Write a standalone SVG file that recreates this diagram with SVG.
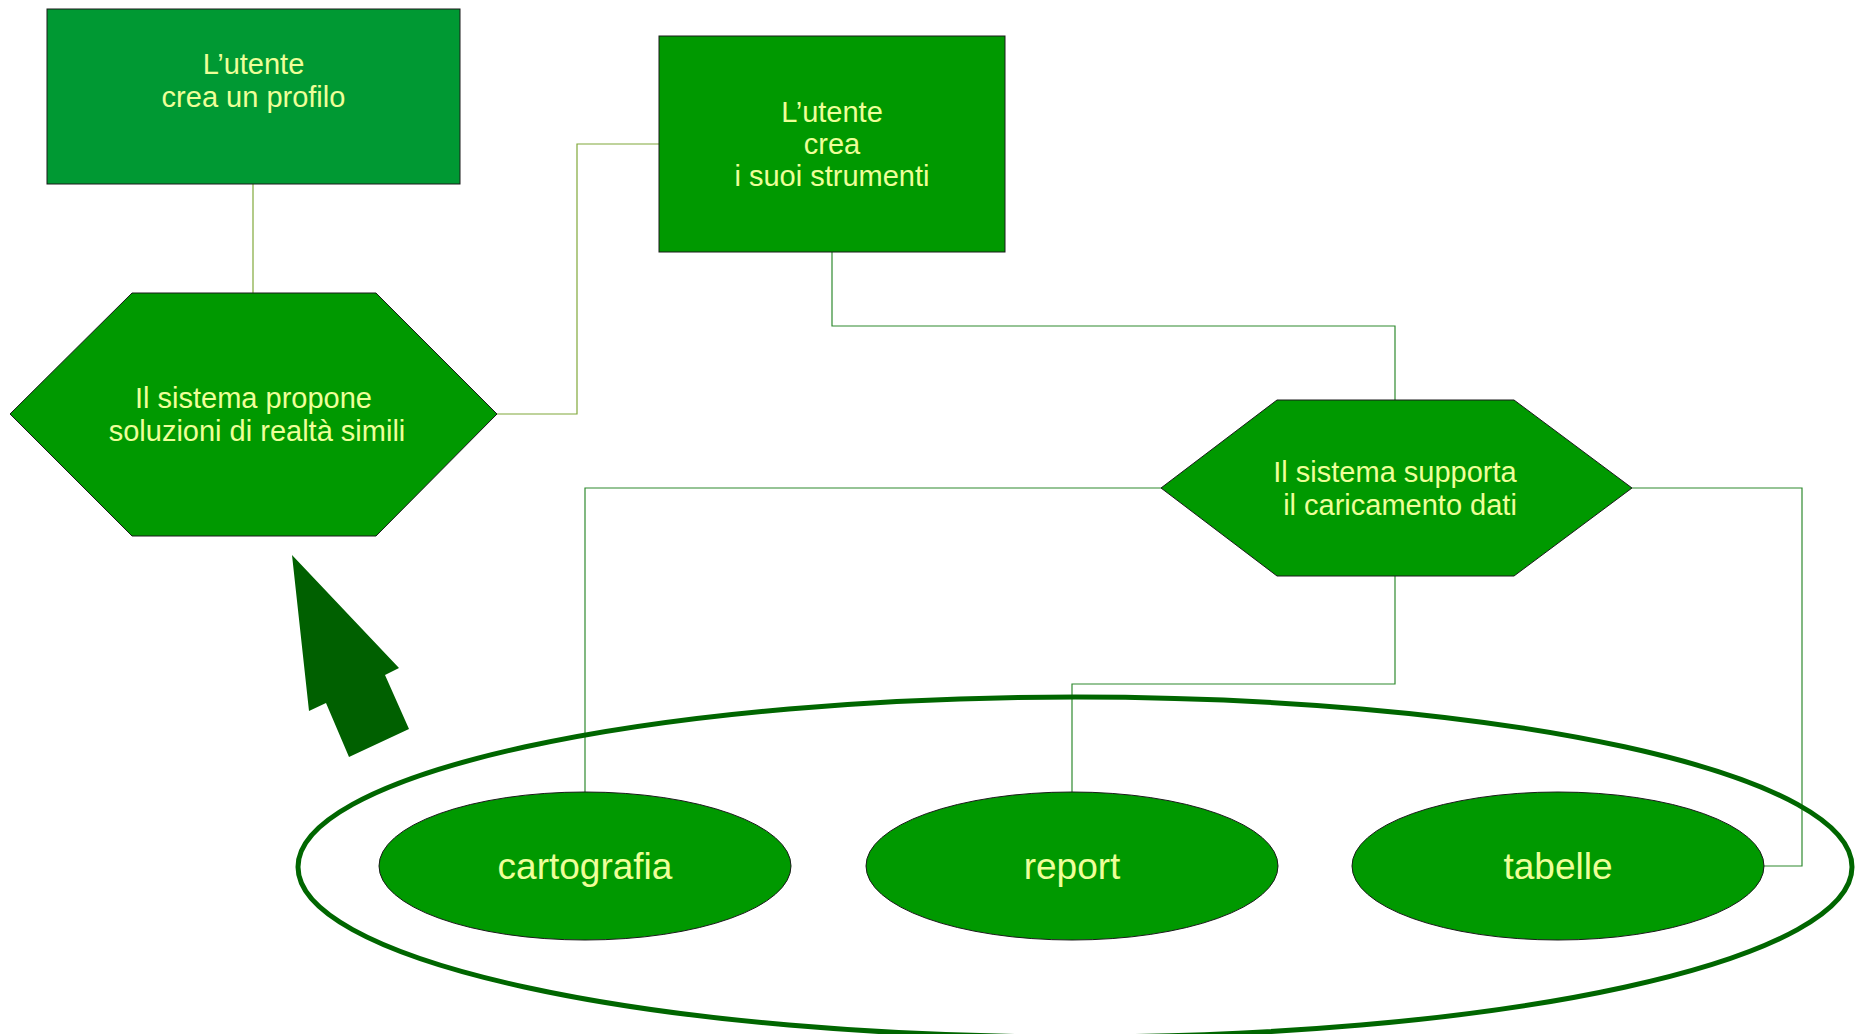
<svg xmlns="http://www.w3.org/2000/svg" width="1855" height="1034" viewBox="0 0 1855 1034">
<style>
.node{stroke:#1a1a1a;stroke-width:1}
.t{font-family:"Liberation Sans",Arial,sans-serif;font-size:29px;fill:#eeff99;text-anchor:middle}
.te{font-family:"Liberation Sans",Arial,sans-serif;font-size:37px;fill:#eeff99;text-anchor:middle}
.c1{fill:none;stroke:#80a83a;stroke-width:1.2}
.c2{fill:none;stroke:#2f8a2f;stroke-width:1.2}
</style>
<rect width="1855" height="1034" fill="#ffffff"/>
<g id="connectors">
<polyline class="c1" points="253,184 253,293"/>
<polyline class="c1" points="497,414 577,414 577,144 659,144"/>
<polyline class="c2" points="832,252 832,326 1395,326 1395,400"/>
<polyline class="c2" points="1161,488 585,488 585,792"/>
<polyline class="c2" points="1395,576 1395,684 1072,684 1072,792"/>
<polyline class="c2" points="1632,488 1802,488 1802,866 1764,866"/>
</g>
<g id="group-ellipse">
<ellipse cx="1075" cy="867" rx="777" ry="170" fill="none" stroke="#006600" stroke-width="5"/>
</g>
<g id="arrow">
<polygon points="292,555 399,668 385,675 409,729 349,757 326,703 309,711" fill="#006000"/>
</g>
<g id="node-profilo">
<rect class="node" x="47" y="9" width="413" height="175" fill="#009933"/>
<text class="t" x="253.5" y="74">L’utente</text>
<text class="t" x="253.5" y="107">crea un profilo</text>
</g>
<g id="node-propone">
<polygon class="node" points="132,293 376,293 497,414 376,536 132,536 10,414" fill="#009900"/>
<text class="t" x="253.5" y="408">Il sistema propone</text>
<text class="t" x="257" y="441">soluzioni di realtà simili</text>
</g>
<g id="node-strumenti">
<rect class="node" x="659" y="36" width="346" height="216" fill="#009900"/>
<text class="t" x="832" y="122">L’utente</text>
<text class="t" x="832" y="154">crea</text>
<text class="t" x="832" y="186">i suoi strumenti</text>
</g>
<g id="node-caricamento">
<polygon class="node" points="1277,400 1514,400 1632,488 1514,576 1277,576 1161,488" fill="#009900"/>
<text class="t" x="1395" y="482">Il sistema supporta</text>
<text class="t" x="1400" y="515">il caricamento dati</text>
</g>
<g id="node-cartografia">
<ellipse class="node" cx="585" cy="866" rx="206" ry="74" fill="#009900"/>
<text class="te" x="585" y="879">cartografia</text>
</g>
<g id="node-report">
<ellipse class="node" cx="1072" cy="866" rx="206" ry="74" fill="#009900"/>
<text class="te" x="1072" y="879">report</text>
</g>
<g id="node-tabelle">
<ellipse class="node" cx="1558" cy="866" rx="206" ry="74" fill="#009900"/>
<text class="te" x="1558" y="879">tabelle</text>
</g>
</svg>
